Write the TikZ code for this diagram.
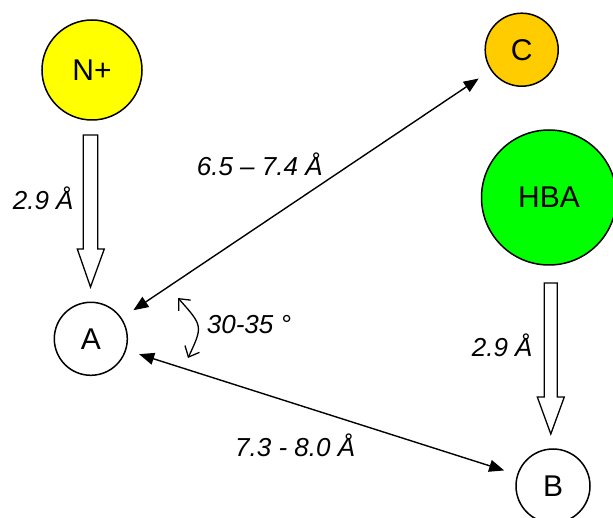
\documentclass[tikz,border=0pt]{standalone}
\usepackage{fontspec}
\setmainfont{Liberation Sans}
\usetikzlibrary{arrows.meta}
\definecolor{nyellow}{RGB}{255,255,0}
\definecolor{corange}{RGB}{255,204,0}
\definecolor{hgreen}{RGB}{0,255,0}
\begin{document}
\begin{tikzpicture}[x=1pt,y=-1pt,
  atom/.style={circle,draw=black,line width=1.5pt,inner sep=0pt,font=\fontsize{30}{34}\selectfont},
  lbl/.style={anchor=base west,inner sep=0pt,font=\fontsize{26}{30}\selectfont\itshape},
  hollow/.style={draw=black,fill=white,line width=1.3pt,line join=miter},
  dbl/.style={line width=1.4pt,{Triangle[length=15pt,width=12pt]}-{Triangle[length=15pt,width=12pt]}},
  angarr/.style={line width=1.3pt,{Straight Barb[length=9pt,width=16pt]}-{Straight Barb[length=9pt,width=16pt]}}]
\useasboundingbox (0,0) rectangle (613,518);
\fill[white] (0,0) rectangle (613,518);
% atoms
\node[atom,fill=nyellow,minimum size=100pt] (Np) at (92,70) {N+};
\node[atom,fill=corange,minimum size=73pt] (C) at (521.7,49.7) {C};
\node[atom,fill=hgreen,minimum size=135pt] (HBA) at (549,197.5) {HBA};
\node[atom,fill=white,minimum size=73pt] (A) at (90.8,338.8) {A};
\node[atom,fill=white,minimum size=74pt] (B) at (553,486) {B};
% hollow arrows
\draw[hollow] (83.3,135) -- (97.7,135) -- (97.7,249) -- (104.3,249) -- (90.5,287) -- (77.3,249) -- (83.3,249) -- cycle;
\draw[hollow] (544.3,283) -- (557.3,283) -- (557.3,397) -- (564.3,397) -- (550.8,434) -- (537.3,397) -- (544.3,397) -- cycle;
% double arrows
\draw[dbl,shorten <=14pt,shorten >=14.5pt] (A) -- (C);
\draw[dbl,shorten <=13.5pt,shorten >=13.5pt] (A) -- (B);
% angle arrow
\coordinate (ang1) at (178,298);
\coordinate (ang2) at (188,358);
\draw[angarr] (ang1) .. controls (203,326) .. (ang2);
% labels
\node[lbl] (l1) at (12.7,210) {2.9 Å};
\node[lbl] (l2) at (471.7,357) {2.9 Å};
\node[lbl] (l3) at (196.7,175.5) {6.5 – 7.4 Å};
\node[lbl] (l4) at (235,456) {7.3 - 8.0 Å};
\node[lbl] (l5) at (206.7,333.3) {30-35 °};
\end{tikzpicture}
\end{document}
